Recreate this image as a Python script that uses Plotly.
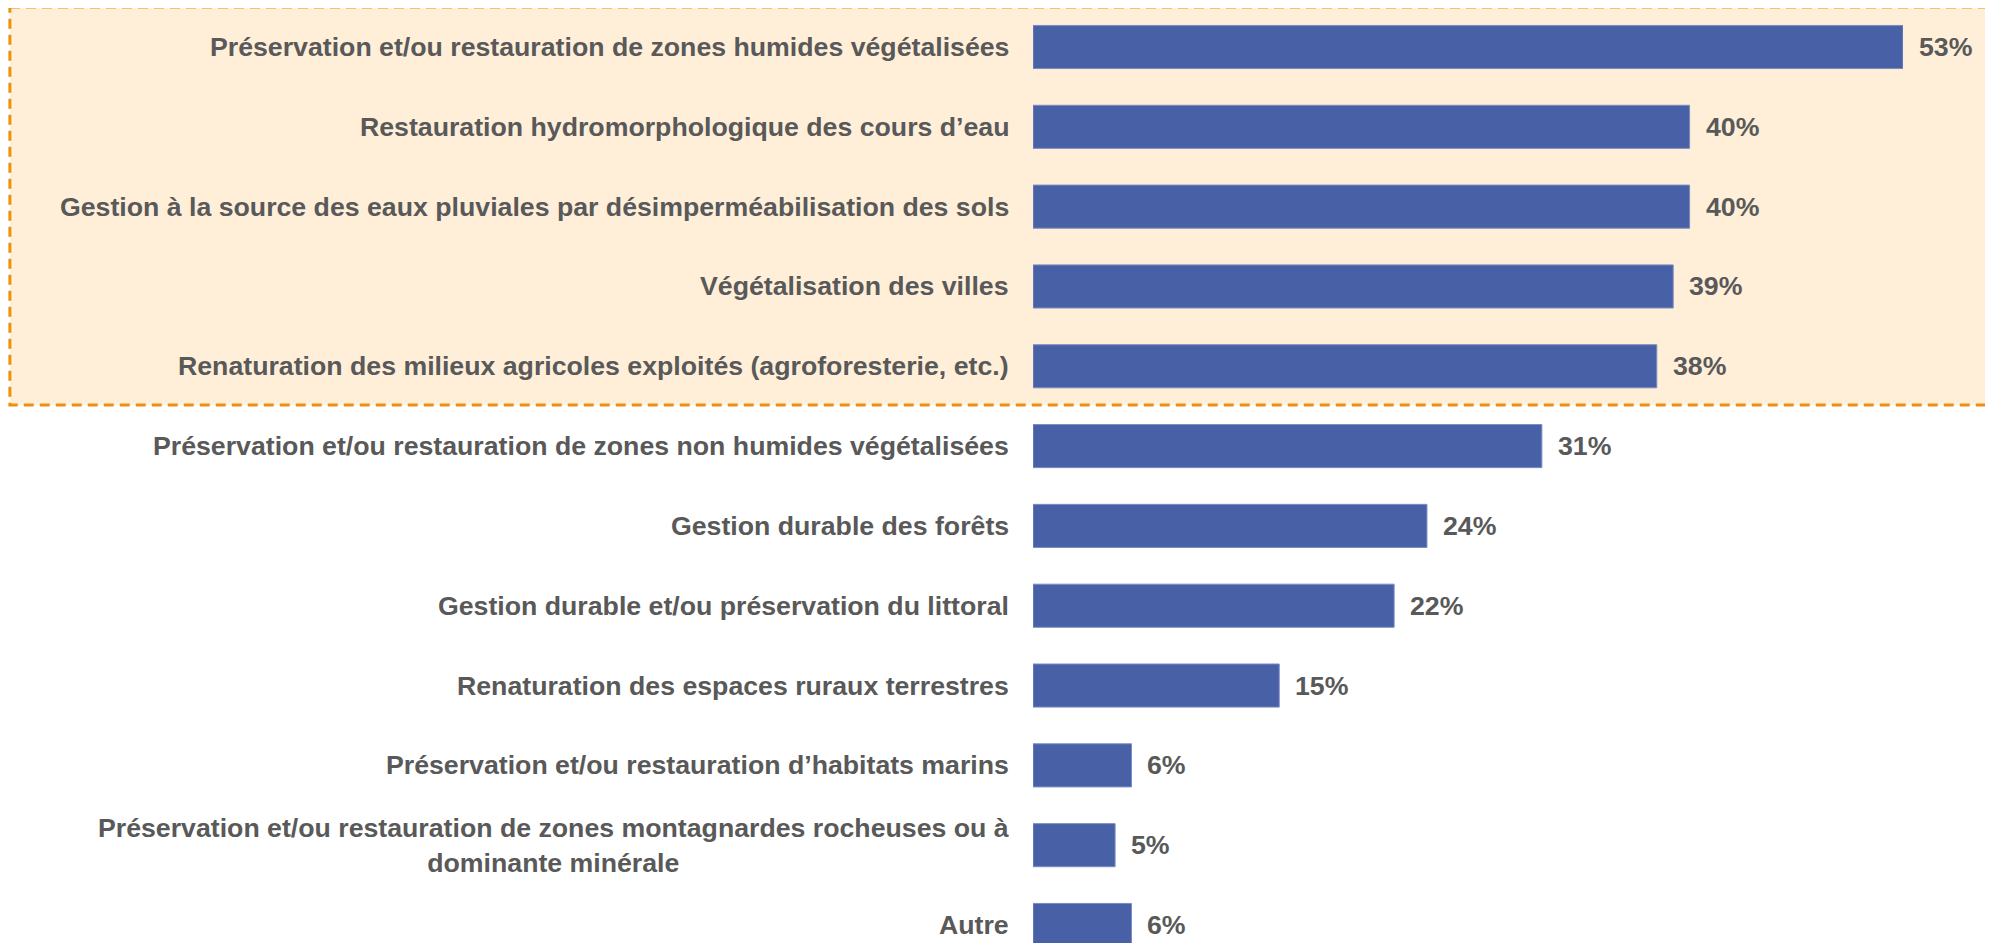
import plotly.graph_objects as go

categories = [
    "Préservation et/ou restauration de zones humides végétalisées",
    "Restauration hydromorphologique des cours d’eau",
    "Gestion à la source des eaux pluviales par désimperméabilisation des sols",
    "Végétalisation des villes",
    "Renaturation des milieux agricoles exploités (agroforesterie, etc.)",
    "Préservation et/ou restauration de zones non humides végétalisées",
    "Gestion durable des forêts",
    "Gestion durable et/ou préservation du littoral",
    "Renaturation des espaces ruraux terrestres",
    "Préservation et/ou restauration d’habitats marins",
    "Préservation et/ou restauration de zones montagnardes rocheuses ou à<br>dominante minérale",
    "Autre",
]
values = [53, 40, 40, 39, 38, 31, 24, 22, 15, 6, 5, 6]
value_labels = [f"{v}%" for v in values]

BAR = "#4860a6"
TEXT = "#595959"
FONT = "Liberation Sans, Arial, sans-serif"
FS = 26.7

fig = go.Figure(go.Bar(
    x=values,
    y=list(range(len(categories))),
    orientation="h",
    width=0.54,
    marker=dict(color=BAR, line=dict(color="#7b8cc2", width=1)),
    hoverinfo="skip",
))

# category labels, right-aligned next to the axis
for i, (cat, val, lab) in enumerate(zip(categories, values, value_labels)):
    fig.add_annotation(x=0, y=i, xref="x", yref="y", text=f"<b>{cat}</b>",
                       xanchor="right", yanchor="middle", align="center",
                       xshift=-22, showarrow=False,
                       font=dict(family=FONT, size=FS, color=TEXT))
    fig.add_annotation(x=val, y=i, xref="x", yref="y", text=f"<b>{lab}</b>",
                       xanchor="left", yanchor="middle", xshift=14,
                       showarrow=False,
                       font=dict(family=FONT, size=FS, color=TEXT))

# highlighted top-5 box
fig.add_shape(type="rect", xref="paper", yref="y",
              x0=-1.176, x1=1.101, y0=-0.5, y1=4.485,
              fillcolor="#ffefd9",
              line=dict(color="#ef900c", width=3, dash="10px,6px"),
              layer="below")

# page body adds an 8px margin, so the figure is 8px smaller than the window
fig.update_layout(
    width=1985, height=935,
    margin=dict(l=1025, r=90, t=0, b=0),
    paper_bgcolor="white", plot_bgcolor="rgba(0,0,0,0)",
    showlegend=False,
    xaxis=dict(range=[0, 53], visible=False, fixedrange=True),
    yaxis=dict(range=[11.2255, -0.4886], visible=False, fixedrange=True),
)

fig.write_html("out.html")
